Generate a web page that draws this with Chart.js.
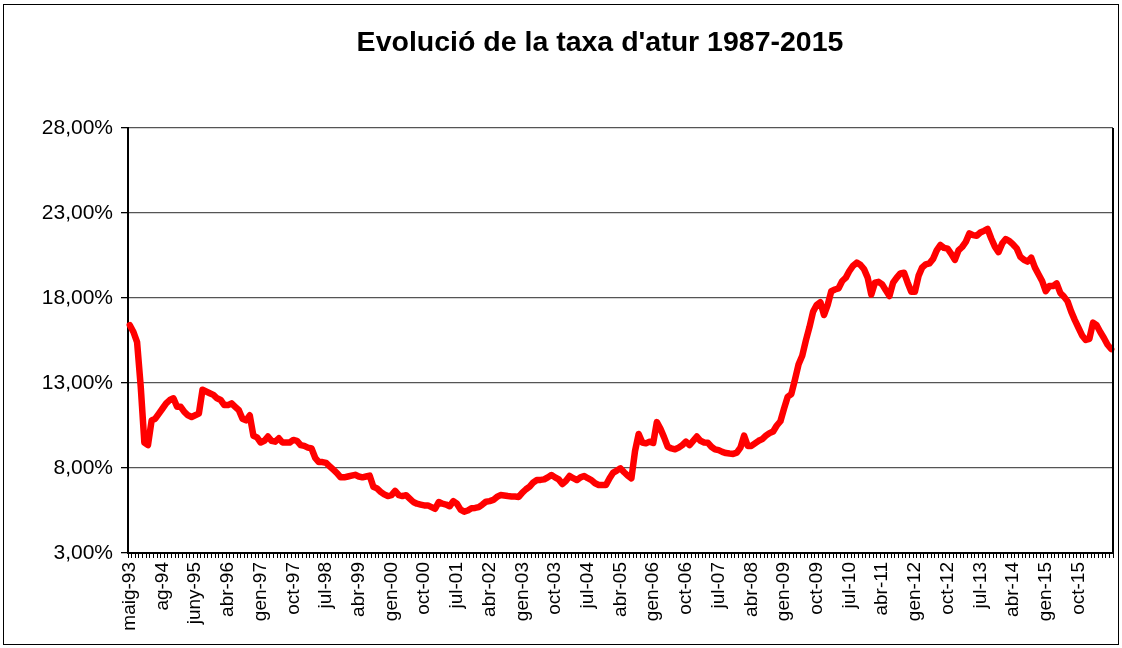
<!DOCTYPE html>
<html>
<head>
<meta charset="utf-8">
<script src="https://cdn.jsdelivr.net/npm/chart.js@4.4.1/dist/chart.umd.min.js"></script>
<style>
  html, body { margin: 0; padding: 0; background: #ffffff; }
  #wrap { width: 1122px; height: 648px; position: relative; }
</style>
</head>
<body>
<div id="wrap"><canvas id="c"></canvas></div>
<script>
// ---- data ----
const chartTitle = "Evolució de la taxa d'atur 1987-2015";
const tickLabels = ["maig-93","ag-94","juny-95","abr-96","gen-97","oct-97","jul-98","abr-99","gen-00","oct-00",
  "jul-01","abr-02","gen-03","oct-03","jul-04","abr-05","gen-06","oct-06","jul-07","abr-08",
  "gen-09","oct-09","jul-10","abr-11","gen-12","oct-12","jul-13","abr-14","gen-15","oct-15"];
const labelStep = 9;
const yTicks = [3, 8, 13, 18, 23, 28];
const taxaAtur1 = [
  16.4,16.0,15.4,12.8,9.5,9.35,10.8,10.9,11.2,11.5,
  11.8,12.0,12.1,11.6,11.6,11.3,11.1,11.0,11.1,11.2,
  12.6,12.5,12.4,12.3,12.1,12.0,11.7,11.7,11.8,11.6,
  11.4,10.9,10.8,11.1,9.9,9.8,9.5,9.6,9.85,9.6,
  9.55,9.75,9.5,9.5,9.5,9.65,9.6,9.35,9.3,9.2,
  9.15,8.6,8.35,8.35,8.3,8.1,7.9,7.7,7.45,7.45,
  7.5,7.55,7.6,7.5,7.45,7.5,7.55,6.9,6.8,6.6,
  6.45,6.35,6.4,6.65,6.4,6.35,6.4,6.2,6.0,5.9,
  5.85,5.8,5.8,5.7,5.6,6.0,5.9,5.85,5.75,6.05
];
const taxaAtur2 = [
  5.9,5.55,5.43,5.5,5.63,5.65,5.7,5.85,6.02,6.05,
  6.12,6.3,6.41,6.38,6.35,6.33,6.32,6.3,6.55,6.75,
  6.9,7.15,7.29,7.3,7.33,7.45,7.59,7.45,7.33,7.06,
  7.25,7.53,7.4,7.29,7.45,7.53,7.4,7.29,7.1,7.0,
  7.0,7.0,7.4,7.73,7.85,7.98,7.75,7.55,7.39,9.0,
  10.0,9.5,9.45,9.55,9.47,10.7,10.3,9.8,9.25,9.15,
  9.1,9.2,9.35,9.55,9.35,9.6,9.85,9.6,9.5,9.49,
  9.25,9.1,9.05,8.95,8.88,8.85,8.83,8.9,9.2,9.9,
  9.3,9.3,9.45,9.6,9.7,9.9,10.05,10.15,10.5,10.75
];
const taxaAtur3 = [
  11.5,12.19,12.35,13.2,14.1,14.6,15.5,16.3,17.2,17.6,
  17.75,17.0,17.6,18.4,18.5,18.57,19.0,19.2,19.6,19.9,
  20.08,19.95,19.7,19.2,18.2,18.9,18.95,18.8,18.45,18.12,
  18.9,19.2,19.45,19.49,18.9,18.37,18.37,19.3,19.8,19.98,
  20.04,20.3,20.8,21.12,20.95,20.9,20.6,20.24,20.8,21.0,
  21.3,21.8,21.7,21.66,21.85,21.95,22.06,21.5,21.02,20.7,
  21.2,21.47,21.35,21.15,20.92,20.43,20.25,20.14,20.37,19.8,
  19.4,19.0,18.4,18.7,18.7,18.86,18.3,18.08,17.8,17.2,
  16.7,16.25,15.8,15.53,15.6,16.55,16.4,16.0,15.65,15.25,
  15.0
];
const taxaAtur = taxaAtur1.concat(taxaAtur2, taxaAtur3);
const categories = taxaAtur.map((_, i) => (i % labelStep === 0 && tickLabels[i / labelStep]) ? tickLabels[i / labelStep] : '');

// ---- layout constants ----
const FONT = "'Liberation Sans', Arial, sans-serif";
const PLOT = { left: 128, top: 128, right: 1113, bottom: 553 };
const TITLE_POS = { x: 600, y: 43 };

const framePlugin = {
  id: 'frame',
  beforeDraw(chart) {
    const ctx = chart.ctx;
    ctx.save();
    ctx.fillStyle = '#ffffff';
    ctx.fillRect(0, 0, chart.width, chart.height);
    ctx.restore();
  },
  afterDraw(chart) {
    const ctx = chart.ctx;
    const a = chart.chartArea;
    ctx.save();
    ctx.strokeStyle = '#000000';
    ctx.lineWidth = 2;
    ctx.beginPath();
    ctx.moveTo(a.right, a.top);
    ctx.lineTo(a.right, a.bottom);
    ctx.stroke();
    ctx.lineWidth = 1;
    ctx.strokeRect(3.5, 4.5, chart.width - 7, chart.height - 8);
    // title
    ctx.fillStyle = '#000000';
    ctx.font = "bold 28.5px " + FONT;
    ctx.textAlign = 'center';
    ctx.textBaseline = 'middle';
    ctx.fillText(chartTitle, TITLE_POS.x, TITLE_POS.y);
    ctx.restore();
  }
};

new Chart(document.getElementById('c'), {
  type: 'line',
  data: {
    labels: categories,
    datasets: [{
      data: taxaAtur,
      borderColor: '#ff0000',
      borderWidth: 6.5,
      pointRadius: 0,
      tension: 0,
      borderJoinStyle: 'round',
      borderCapStyle: 'round',
      fill: false
    }]
  },
  options: {
    responsive: true,
    maintainAspectRatio: false,
    animation: false,
    layout: { padding: { left: 0, right: 1122 - PLOT.right, top: PLOT.top, bottom: 0 } },
    plugins: {
      legend: { display: false },
      tooltip: { enabled: false },
      title: { display: false }
    },
    scales: {
      x: {
        type: 'category',
        offset: true,
        border: { display: true, color: '#000000', width: 2 },
        grid: { display: true, drawOnChartArea: false, drawTicks: true, tickLength: 5, color: '#000000', offset: true },
        ticks: {
          autoSkip: false,
          maxRotation: 90,
          minRotation: 90,
          padding: 4,
          color: '#000000',
          font: { family: FONT, size: 19 }
        },
        afterFit(scale) {
          scale.height = 648 - PLOT.bottom;
          scale.paddingLeft = 0;
          scale.paddingRight = 0;
        }
      },
      y: {
        min: yTicks[0],
        max: yTicks[yTicks.length - 1],
        afterBuildTicks(scale) { scale.ticks = yTicks.map(v => ({ value: v })); },
        border: { display: true, color: '#000000', width: 2 },
        grid: { color: '#555555', lineWidth: 1.3, drawTicks: true, tickLength: 7, tickColor: '#000000' },
        ticks: {
          color: '#000000',
          padding: 8,
          font: { family: FONT, size: 21 },
          callback: v => v.toFixed(2).replace('.', ',') + '%'
        },
        afterFit(scale) {
          scale.width = PLOT.left;
          scale.paddingTop = 0;
          scale.paddingBottom = 0;
        }
      }
    }
  },
  plugins: [framePlugin]
});
</script>
</body>
</html>
